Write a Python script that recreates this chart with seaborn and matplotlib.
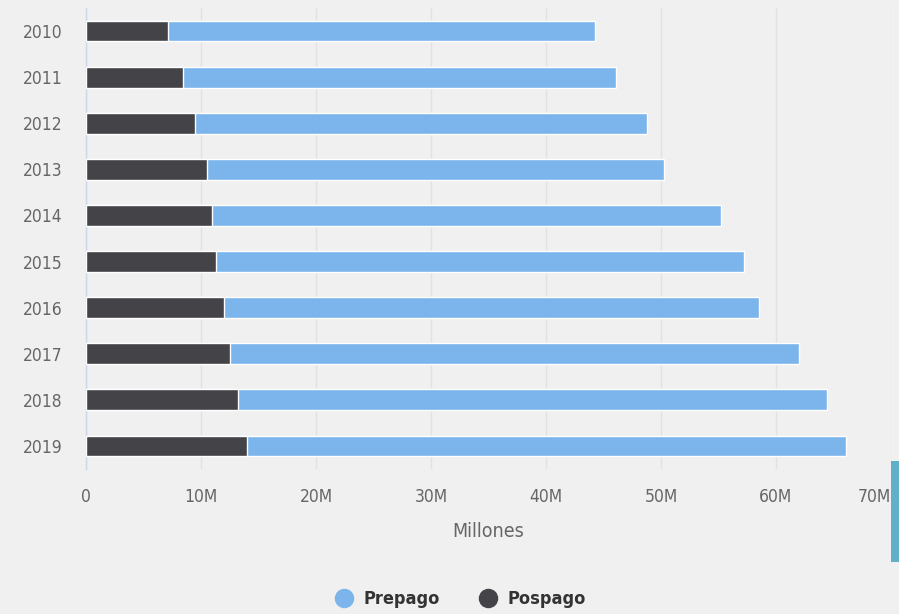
import matplotlib
matplotlib.use("Agg")
import matplotlib.pyplot as plt
import seaborn as sns
import pandas as pd
from matplotlib.lines import Line2D
from matplotlib.patches import Rectangle

years = ["2010", "2011", "2012", "2013", "2014", "2015", "2016", "2017", "2018", "2019"]
pospago = [7.1, 8.4, 9.45, 10.5, 10.95, 11.3, 12.0, 12.5, 13.2, 14.0]
prepago = [37.2, 37.7, 39.35, 39.8, 44.25, 45.9, 46.5, 49.5, 51.2, 52.1]
xticks = [0, 10, 20, 30, 40, 50, 60, 70]
xtick_labels = ["0", "10M", "20M", "30M", "40M", "50M", "60M", "70M"]

c_pre = "#7cb5ec"
c_pos = "#434348"
bg = "#f0f0f0"

df = pd.DataFrame({"year": years, "pospago": pospago, "prepago": prepago})
df["total"] = df["pospago"] + df["prepago"]

sns.set_theme(style="white")
plt.rcParams["font.family"] = ["DejaVu Sans"]
plt.rcParams["font.stretch"] = "condensed"

fig = plt.figure(figsize=(8.99, 6.14), dpi=100, facecolor=bg)
ax = fig.add_axes([86 / 899, 145 / 614, 805 / 899, 461 / 614])
ax.set_facecolor(bg)

sns.barplot(data=df, y="year", x="total", color=c_pre, orient="h", width=0.45,
            saturation=1, edgecolor="white", linewidth=1, ax=ax, zorder=3)
sns.barplot(data=df, y="year", x="pospago", color=c_pos, orient="h", width=0.45,
            saturation=1, edgecolor="white", linewidth=1, ax=ax, zorder=4)

ax.set_xlim(0, 70)
ax.set_ylim(9.5, -0.5)
ax.set_xticks(xticks)
ax.set_xticklabels(xtick_labels)
ax.get_xticklabels()[-1].set_horizontalalignment("right")
ax.grid(axis="x", color="#e2e2e2", linewidth=1, zorder=0)
ax.grid(axis="y", visible=False)
for s in ["top", "right", "bottom"]:
    ax.spines[s].set_visible(False)
ax.spines["left"].set_color("#ccd6eb")
ax.spines["left"].set_linewidth(1)
ax.tick_params(axis="both", length=0, labelsize=12.5, labelcolor="#666666")
ax.tick_params(axis="x", pad=14)
ax.tick_params(axis="y", pad=17)
ax.set_ylabel("")
ax.set_xlabel("Millones", fontsize=14, color="#666666", labelpad=11)

handles = [
    Line2D([0], [0], marker="o", linestyle="", markersize=13, markerfacecolor=c_pre, markeredgecolor=c_pre),
    Line2D([0], [0], marker="o", linestyle="", markersize=13, markerfacecolor=c_pos, markeredgecolor=c_pos),
]
leg = fig.legend(handles, ["Prepago", "Pospago"], loc="center", bbox_to_anchor=(456 / 899, 1 - 599 / 614),
                 ncol=2, frameon=False, handletextpad=0.05, columnspacing=1.7,
                 prop={"weight": "bold", "size": 13})
for t in leg.get_texts():
    t.set_color("#333333")

fig.patches.append(Rectangle((891 / 899, 1 - 562 / 614), 8 / 899, 101 / 614,
                             transform=fig.transFigure, facecolor="#5fb0c8", edgecolor="none", zorder=10))

fig.savefig("out.png", dpi=100, facecolor=bg)
